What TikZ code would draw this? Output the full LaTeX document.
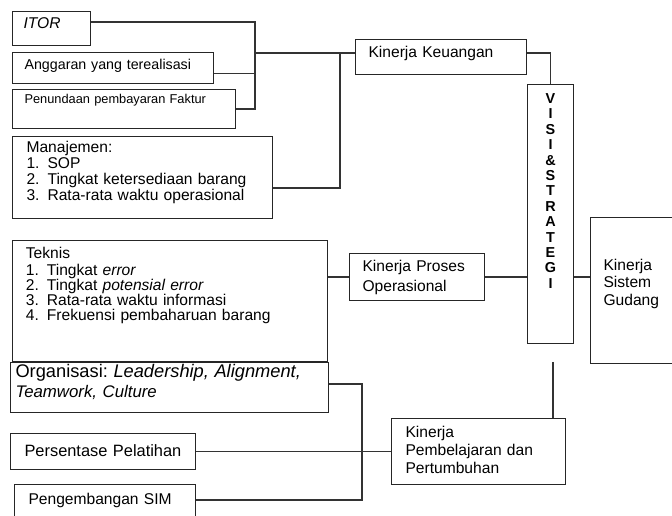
\documentclass[tikz,border=0pt]{standalone}
\usepackage{fontspec}
\setmainfont{Liberation Sans}
\newcommand{\nitem}[1]{\makebox[15.75pt][l]{#1}}
\frenchspacing

\begin{document}
\begin{tikzpicture}[x=0.75pt,y=-0.75pt,
		box/.style={draw=black!85,line width=0.8pt,anchor=north west,inner ysep=0pt,align=left,font=\fontsize{11.7}{12}\selectfont},
		link/.style={draw=black!80,line width=0.8pt}]
		\useasboundingbox (0,0) rectangle (672,516);
		\node[box,inner xsep=8.25pt,text width=42pt,text height=12.75pt,text depth=12.75pt] (itor) at (12,11) {\textit{ITOR}};
		\node[box,inner xsep=9pt,text width=132.75pt,text height=12.75pt,text depth=10.5pt,font=\fontsize{10.7}{12}\selectfont] (ang) at (12,52) {Anggaran yang terealisasi};
		\node[box,inner xsep=9pt,text width=149.25pt,text height=10.5pt,text depth=18.75pt,font=\fontsize{9.6}{11}\selectfont] (pen) at (12,89) {Penundaan pembayaran Faktur};
		\node[box,inner xsep=10.5pt,text width=174pt,text height=12pt,text depth=49.5pt] (man) at (12,136) {Manajemen:\\\nitem{1.}SOP\\\nitem{2.}Tingkat ketersediaan barang\\\nitem{3.}Rata-rata waktu operasional};
		\node[box,inner xsep=10pt,text width=216.25pt,text height=13.5pt,text depth=77.25pt,font=\fontsize{11.7}{11.3}\selectfont] (tek) at (12,240) {Teknis\\[1.5pt]\nitem{1.}Tingkat \textit{error}\\\nitem{2.}Tingkat \textit{potensial error}\\\nitem{3.}Rata-rata waktu informasi\\\nitem{4.}Frekuensi pembaharuan barang};
		\node[box,inner xsep=3.75pt,text width=231pt,text height=11.25pt,text depth=26.25pt,font=\fontsize{12.6}{15}\selectfont] (org) at (10,362) {{\fontsize{13.7}{15}\selectfont Organisasi: \textit{Leadership, Alignment,}}\\\textit{Teamwork, Culture}};
		\node[box,inner xsep=10.5pt,text width=117.75pt,text height=17.25pt,text depth=9.75pt,font=\fontsize{12.3}{14}\selectfont] (pel) at (10,433) {Persentase Pelatihan};
		\node[box,inner xsep=10.5pt,text width=114.75pt,text height=15pt,text depth=15pt] (sim) at (14,484) {Pengembangan SIM};
		\node[box,inner xsep=9.75pt,text width=108.75pt,text height=13.5pt,text depth=12.75pt] (keu) at (355,39) {Kinerja Keuangan};
		\node[box,inner xsep=0pt,text width=34.5pt,text height=14.25pt,text depth=180pt,align=center,font=\fontsize{10.8}{11.55}\selectfont\bfseries] (visi) at (527,84) {V\\I\\S\\I\\\&\\S\\T\\R\\A\\T\\E\\G\\I};
		\node[box,inner xsep=9.75pt,text width=81.75pt,text height=13.5pt,text depth=21.75pt,font=\fontsize{11.7}{15}\selectfont] (ops) at (349,253) {Kinerja Proses\\Operasional};
		\node[box,inner xsep=9.75pt,text width=55.5pt,text height=39.75pt,text depth=69.75pt,font=\fontsize{11.7}{13.1}\selectfont] (gud) at (590,217) {Kinerja\\Sistem\\Gudang};
		\node[box,inner xsep=10.5pt,text width=109.5pt,text height=14.25pt,text depth=35.25pt,font=\fontsize{11.7}{13.5}\selectfont] (tum) at (391,418) {Kinerja\\Pembelajaran dan\\Pertumbuhan};
		\coordinate (j1) at (255,22);
		\coordinate (j2) at (340,53);
		\coordinate (j3) at (340,188);
		\coordinate (j4) at (362,384);
		\coordinate (j5) at (362,500);
		\coordinate (j6) at (553,362);
		\draw[link] (itor.east |- j1) -- (j1) |- (pen.east);
		\draw[link] ([yshift=-4pt]ang.east) -- ([yshift=-4pt]ang.east -| j1);
		\draw[link] (j1 |- j2) -- (keu.west |- j2);
		\draw[link] (j2) -- (j3) -- (j3 -| man.east);
		\draw[link] (keu.east |- j2) -| (visi.north);
		\draw[link] (ops.west -| tek.east) -- (ops.west);
		\draw[link] (ops.east) -- (ops.east -| visi.west);
		\draw[link] (visi.east |- ops.east) -- (gud.west |- ops.east);
		\draw[link] (j4 -| org.east) -- (j4) -- (j5) -- (j5 -| sim.east);
		\draw[link] (pel.east) -- (tum.west);
		\draw[link] (j6) -- (j6 |- tum.north);
	\end{tikzpicture}
\end{document}
